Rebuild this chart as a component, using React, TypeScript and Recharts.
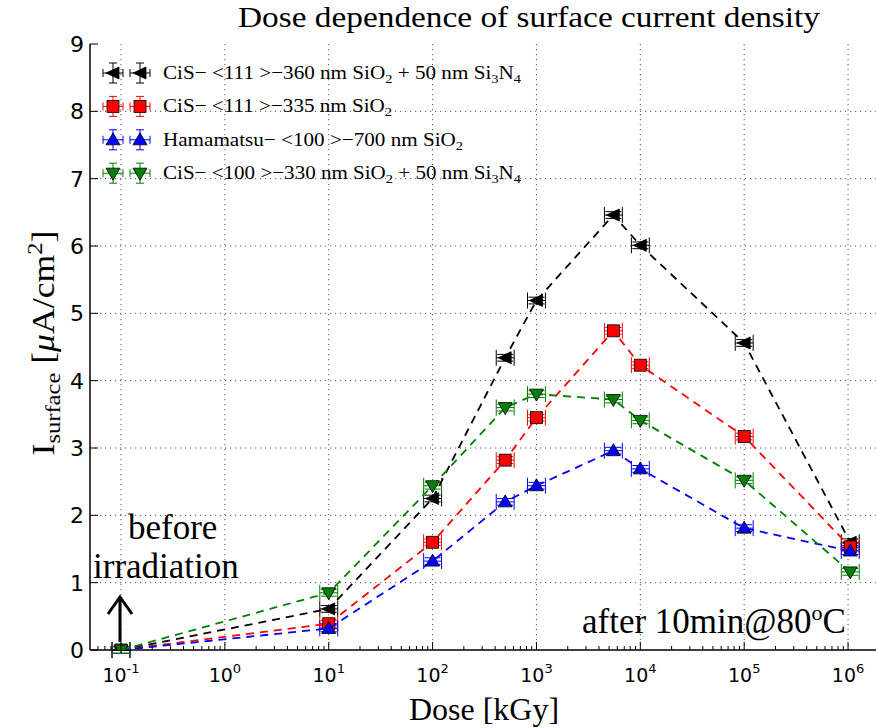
import React from 'react';
import {
  ComposedChart,
  Scatter,
  XAxis,
  YAxis,
  CartesianGrid,
  ErrorBar,
  Legend,
} from 'recharts';

document.body.style.margin = '0';

// dose points [kGy], shared by all four sensors
const DOSE = [0.1, 10, 100, 500, 1000, 5500, 10000, 100000, 1050000];

// surface current density [uA/cm^2]
const CIS_111_NITRIDE = [0, 0.61, 2.25, 4.34, 5.19, 6.46, 6.01, 4.56, 1.6];
const CIS_111_OXIDE = [0, 0.39, 1.6, 2.82, 3.45, 4.74, 4.23, 3.17, 1.53];
const HAMAMATSU_100 = [0, 0.32, 1.32, 2.2, 2.44, 2.96, 2.69, 1.81, 1.47];
const CIS_100_NITRIDE = [0, 0.85, 2.44, 3.6, 3.8, 3.72, 3.41, 2.52, 1.16];

// relative dose uncertainty (low, high) and absolute current uncertainty
const DOSE_REL_ERR = [0.18, 0.22];
const CURRENT_ERR = 0.05;

const DECADES = [0.1, 1, 10, 100, 1000, 10000, 100000, 1000000];
const DECADE_EXP = ['-1', '0', '1', '2', '3', '4', '5', '6'];
const Y_TICKS = [0, 1, 2, 3, 4, 5, 6, 7, 8, 9];
const Y_GRID = [1, 2, 3, 4, 5, 6, 7, 8];
const X_DOMAIN = [0.0503, 2.03e6];

const MINOR_TICKS = [0.01, ...DECADES]
  .flatMap((d) => [2, 3, 4, 5, 6, 7, 8, 9].map((m) => Number((m * d).toPrecision(3))))
  .filter((v) => v > X_DOMAIN[0] && v < X_DOMAIN[1]);
const X_TICKS = [...DECADES, ...MINOR_TICKS].sort((a, b) => a - b);

const SERIF = '"Liberation Serif", "Times New Roman", serif';
const SANS = '"DejaVu Sans", sans-serif';

type MarkerKind = 'left' | 'square' | 'up' | 'down';
// legend text pieces: plain strings, or { s } for a subscript
type Piece = string | { s: string };

const SERIES = [
  {
    key: 'cis111n',
    values: CIS_111_NITRIDE,
    color: '#000000',
    marker: 'left' as MarkerKind,
    textLen: 358,
    label: ['CiS− <111 >−360 nm SiO', { s: '2' }, ' + 50 nm Si', { s: '3' }, 'N', { s: '4' }] as Piece[],
  },
  {
    key: 'cis111o',
    values: CIS_111_OXIDE,
    color: '#ff0000',
    marker: 'square' as MarkerKind,
    textLen: 229,
    label: ['CiS− <111 >−335 nm SiO', { s: '2' }] as Piece[],
  },
  {
    key: 'ham100',
    values: HAMAMATSU_100,
    color: '#0000ff',
    marker: 'up' as MarkerKind,
    textLen: 300,
    label: ['Hamamatsu− <100 >−700 nm SiO', { s: '2' }] as Piece[],
  },
  {
    key: 'cis100n',
    values: CIS_100_NITRIDE,
    color: '#008000',
    marker: 'down' as MarkerKind,
    textLen: 358,
    label: ['CiS− <100 >−330 nm SiO', { s: '2' }, ' + 50 nm Si', { s: '3' }, 'N', { s: '4' }] as Piece[],
  },
];

const rowsFor = (values: number[]) =>
  DOSE.map((x, i) => ({
    x,
    y: values[i],
    xErr: [x * DOSE_REL_ERR[0], x * DOSE_REL_ERR[1]],
    yErr: CURRENT_ERR,
  }));

function renderPieces(pieces: Piece[]) {
  let down = false;
  return pieces.map((p, i) => {
    if (typeof p === 'string') {
      const dy = down ? -4 : 0;
      down = false;
      return <tspan key={i} dy={dy}>{p}</tspan>;
    }
    down = true;
    return <tspan key={i} dy={4} fontSize={13}>{p.s}</tspan>;
  });
}

function Marker({ kind, cx, cy, color }: { kind: MarkerKind; cx: number; cy: number; color: string }) {
  const edge = { stroke: '#000', strokeWidth: 0.8, fill: color };
  if (kind === 'square') return <rect x={cx - 6} y={cy - 6} width={12} height={12} {...edge} />;
  let pts = '';
  if (kind === 'left') pts = `${cx - 7},${cy} ${cx + 6},${cy - 6} ${cx + 6},${cy + 6}`;
  if (kind === 'up') pts = `${cx},${cy - 7} ${cx - 7},${cy + 5} ${cx + 7},${cy + 5}`;
  if (kind === 'down') pts = `${cx},${cy + 7} ${cx - 7},${cy - 5} ${cx + 7},${cy - 5}`;
  return <polygon points={pts} {...edge} />;
}

const BottomTick = ({ x, y, payload }: any) => {
  const i = DECADES.indexOf(payload.value);
  const len = i >= 0 ? 8 : 4;
  return (
    <g>
      <line x1={x} x2={x} y1={y} y2={y - len} stroke="#000" strokeWidth={1} />
      {i >= 0 && (
        <text x={x} y={y + 32} textAnchor="middle" fontFamily={SANS} fontSize={19} fill="#000">
          10<tspan dy={-9} fontSize={13}>{DECADE_EXP[i]}</tspan>
        </text>
      )}
    </g>
  );
};

const TopTick = ({ x, y, payload }: any) => {
  const len = DECADES.includes(payload.value) ? 8 : 4;
  return <line x1={x} x2={x} y1={y} y2={y + len} stroke="#000" strokeWidth={1} />;
};

const LeftTick = ({ x, y, payload }: any) => (
  <g>
    <line x1={x} x2={x + 8} y1={y} y2={y} stroke="#000" strokeWidth={1} />
    <text x={x - 6} y={y} dy="0.36em" textAnchor="end" fontFamily={SANS} fontSize={22} fill="#000">
      {payload.value}
    </text>
  </g>
);

const RightTick = ({ x, y }: any) => (
  <line x1={x} x2={x - 8} y1={y} y2={y} stroke="#000" strokeWidth={1} />
);

const renderLegend = () => (
  <svg width={440} height={135}>
    {SERIES.map((s, i) => {
      const cy = 18 + i * 33.4;
      return (
        <g key={s.key}>
          {[18, 45].map((mx) => (
            <g key={mx} stroke={s.color} strokeWidth={1}>
              <line x1={mx - 10} x2={mx + 10} y1={cy} y2={cy} />
              <line x1={mx - 10} x2={mx - 10} y1={cy - 4} y2={cy + 4} />
              <line x1={mx + 10} x2={mx + 10} y1={cy - 4} y2={cy + 4} />
              <line x1={mx} x2={mx} y1={cy - 10} y2={cy + 10} />
              <line x1={mx - 4} x2={mx + 4} y1={cy - 10} y2={cy - 10} />
              <line x1={mx - 4} x2={mx + 4} y1={cy + 10} y2={cy + 10} />
              <Marker kind={s.marker} cx={mx} cy={cy} color={s.color} />
            </g>
          ))}
          <text
            x={68}
            y={cy + 6}
            fontFamily={SERIF}
            fontSize={19}
            fill="#000"
            textLength={s.textLen}
            lengthAdjust="spacingAndGlyphs"
          >
            {renderPieces(s.label)}
          </text>
        </g>
      );
    })}
  </svg>
);

export default function App() {
  return (
    <div style={{ position: 'relative', width: 876, height: 728, overflow: 'hidden', background: '#fff' }}>
      <ComposedChart width={884} height={728} margin={{ top: 44, right: 4, bottom: 0, left: 0 }}>
        <CartesianGrid
          verticalValues={DECADES}
          horizontalValues={Y_GRID}
          stroke="#555"
          strokeWidth={1}
          strokeDasharray="1.2 3.8"
        />
        <XAxis
          dataKey="x"
          type="number"
          scale="log"
          domain={X_DOMAIN}
          allowDataOverflow
          ticks={X_TICKS}
          interval={0}
          tickSize={0}
          tickMargin={0}
          tickLine={false}
          tick={BottomTick}
          height={78}
          axisLine={{ stroke: '#000', strokeWidth: 1.5 }}
        />
        <XAxis
          xAxisId="top"
          orientation="top"
          dataKey="x"
          type="number"
          scale="log"
          domain={X_DOMAIN}
          allowDataOverflow
          ticks={X_TICKS}
          interval={0}
          tickSize={0}
          tickMargin={0}
          tickLine={false}
          tick={TopTick}
          height={0}
          axisLine={{ stroke: '#000', strokeWidth: 1.5 }}
        />
        <YAxis
          dataKey="y"
          type="number"
          domain={[0, 9]}
          allowDataOverflow
          ticks={Y_TICKS}
          interval={0}
          tickSize={0}
          tickMargin={0}
          tickLine={false}
          tick={LeftTick}
          width={90}
          axisLine={{ stroke: '#000', strokeWidth: 1.5 }}
        />
        <YAxis
          yAxisId="right"
          orientation="right"
          type="number"
          domain={[0, 9]}
          allowDataOverflow
          ticks={Y_TICKS}
          interval={0}
          tickSize={0}
          tickMargin={0}
          tickLine={false}
          tick={RightTick}
          width={0}
          axisLine={{ stroke: '#000', strokeWidth: 1.5 }}
        />
        {SERIES.map((s) => (
          <Scatter
            key={s.key}
            name={s.key}
            data={rowsFor(s.values)}
            fill={s.color}
            line={{ stroke: s.color, strokeWidth: 1.8, strokeDasharray: '8 6' }}
            shape={(p: any) => <Marker kind={s.marker} cx={p.cx} cy={p.cy} color={s.color} />}
            isAnimationActive={false}
          >
            <ErrorBar dataKey="xErr" direction="x" width={8} stroke={s.color} strokeWidth={1} />
            <ErrorBar dataKey="yErr" direction="y" width={8} stroke={s.color} strokeWidth={1} />
          </Scatter>
        ))}
        <Legend
          content={renderLegend}
          layout="horizontal"
          verticalAlign="middle"
          align="center"
          wrapperStyle={{ top: 55, left: 95, width: 440, height: 135 }}
        />
      </ComposedChart>

      <svg
        width={876}
        height={728}
        style={{ position: 'absolute', left: 0, top: 0, pointerEvents: 'none' }}
      >
        <text x={529} y={27} textAnchor="middle" fontFamily={SERIF} fontSize={30} fill="#000"
          textLength={582} lengthAdjust="spacingAndGlyphs">
          Dose dependence of surface current density
        </text>
        <text x={484} y={720} textAnchor="middle" fontFamily={SERIF} fontSize={32} fill="#000">
          Dose [kGy]
        </text>
        <text
          transform="translate(54,343) rotate(-90)"
          textAnchor="middle"
          fontFamily={SERIF}
          fontSize={32}
          fill="#000"
          textLength={225}
          lengthAdjust="spacingAndGlyphs"
        >
          I<tspan dy={6} fontSize={22}>surface</tspan>
          <tspan dy={-6}> [</tspan>
          <tspan fontStyle="italic">μ</tspan>A/cm
          <tspan dy={-12} fontSize={22}>2</tspan>
          <tspan dy={12}>]</tspan>
        </text>
        <text x={128} y={539} fontFamily={SERIF} fontSize={35} fill="#000">before</text>
        <text x={93} y={578} fontFamily={SERIF} fontSize={35} fill="#000">irradiation</text>
        <text x={582} y={633} fontFamily={SERIF} fontSize={35} fill="#000">
          after 10min@80<tspan dy={-13} fontSize={22}>o</tspan>
          <tspan dy={13}>C</tspan>
        </text>
        <g stroke="#000" strokeWidth={3} fill="none">
          <line x1={120} x2={120} y1={642} y2={597} />
          <polyline points="108,614 120,597 132,614" />
        </g>
      </svg>
    </div>
  );
}
